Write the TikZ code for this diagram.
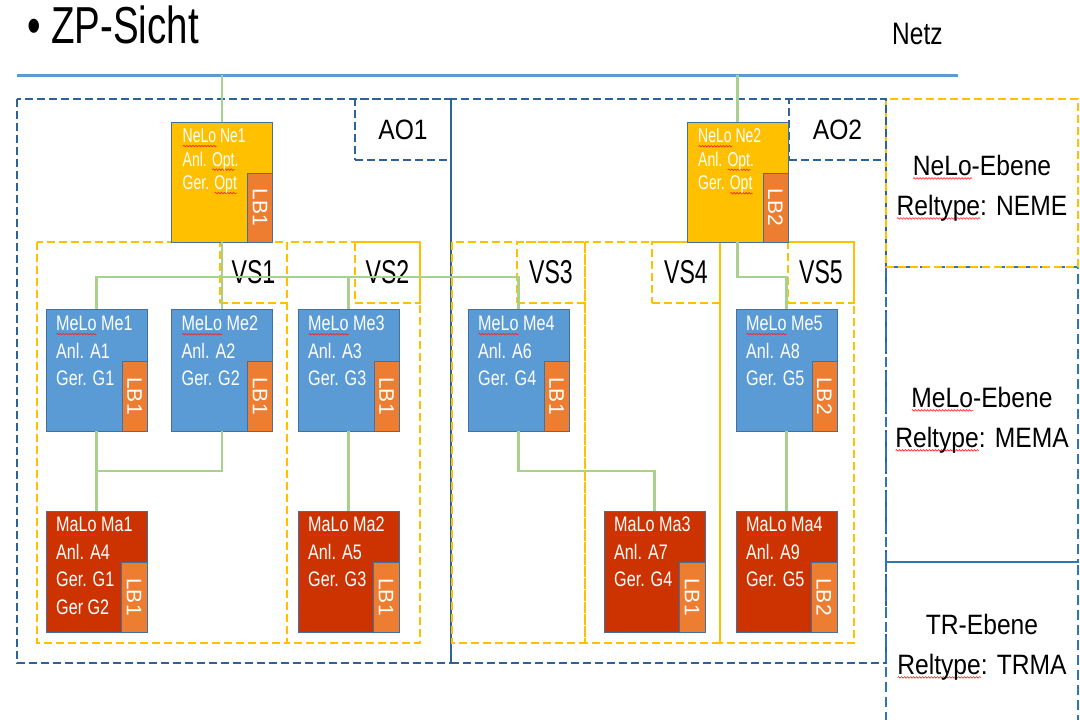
\documentclass[tikz,border=0pt]{standalone}
\usepackage{fontspec}
\usepackage{graphicx}
\usetikzlibrary{decorations.pathmorphing}
\setmainfont{Liberation Sans}
\newfontfamily\boxfont[FakeStretch=0.77]{Liberation Sans}
\newfontfamily\nefont[FakeStretch=0.70]{Liberation Sans}
\newfontfamily\sidefont[FakeStretch=0.88]{Liberation Sans}
\newfontfamily\vsfont[FakeStretch=0.70]{Liberation Sans}
\newfontfamily\titlefont[FakeStretch=0.74]{Liberation Sans}
\newfontfamily\netzfont[FakeStretch=0.79]{Liberation Sans}
\definecolor{gold}{HTML}{FFC000}
\definecolor{lborange}{HTML}{ED7D31}
\definecolor{meblue}{HTML}{5B9BD5}
\definecolor{mared}{HTML}{CC3300}
\definecolor{bord}{HTML}{41719C}
\definecolor{lgreen}{HTML}{A9D18E}
\definecolor{aoblue}{HTML}{2E6399}
\definecolor{sideblue}{HTML}{2E75B6}
\definecolor{netzblue}{HTML}{5B9BD5}
\definecolor{spell}{HTML}{FF2020}
\newsavebox\rwbox
\newlength\rwlen
\newcommand\rw[1]{\sbox\rwbox{#1}\setlength\rwlen{\wd\rwbox}\rlap{\raisebox{-4.5pt}{\tikz\draw[spell,line width=0.6pt,decorate,decoration={snake,amplitude=0.8pt,segment length=3pt}] (0pt,0pt) -- (\the\rwlen,0pt);}}\usebox\rwbox}
\begin{document}
\begin{tikzpicture}[x=1pt,y=-1pt,
  box/.style={draw=bord,line width=0.9pt,minimum width=101pt,minimum height=121pt,inner sep=0pt,outer sep=0pt},
  nebox/.style={box,fill=gold,minimum height=120pt},
  mebox/.style={box,fill=meblue,minimum height=122pt},
  mabox/.style={box,fill=mared},
  lbstrip/.style={draw=bord,line width=0.9pt,fill=lborange,minimum width=25pt,minimum height=70pt,inner sep=0pt,outer sep=0pt,anchor=south east,text=white,font=\fontsize{21}{21}\selectfont},
  boxtext/.style={anchor=north west,inner sep=0pt,align=left,text=white,font=\boxfont\fontsize{21}{27.5}\selectfont},
  netext/.style={anchor=north west,inner sep=0pt,align=left,text=white,font=\nefont\fontsize{20}{23.5}\selectfont},
  conn/.style={draw=lgreen,line width=2.5pt},
  netzline/.style={draw=netzblue,line width=3pt},
  aodash/.style={draw=aoblue,line width=2pt,dash pattern=on 8pt off 4pt},
  sidedash/.style={draw=sideblue,line width=2pt,dash pattern=on 10pt off 5pt},
  vsdash/.style={draw=gold,line width=2pt,dash pattern=on 8pt off 4pt},
  aolab/.style={aodash,anchor=north east,minimum width=96pt,minimum height=61pt,inner sep=0pt,outer sep=0pt,font=\sidefont\fontsize{28}{28}\selectfont},
  vslab/.style={vsdash,anchor=north east,minimum width=66pt,minimum height=61pt,inner sep=0pt,outer sep=0pt,font=\vsfont\fontsize{33}{33}\selectfont},
  sidetext/.style={anchor=base,inner sep=0pt,font=\sidefont\fontsize{28}{28}\selectfont}
]
\useasboundingbox (0,0) rectangle (1080,720);
\clip (0,0) rectangle (1080,720);
\fill[white] (0,0) rectangle (1080,720);

% title and net
\node[anchor=base west,inner sep=0pt,font=\titlefont\fontsize{52}{52}\selectfont] (title) at (27,43) {• ZP-Sicht};
\node[anchor=base west,inner sep=0pt,font=\netzfont\fontsize{31}{31}\selectfont] (netz) at (892,45) {Netz};
\coordinate (nl) at (17,75);
\coordinate (nr) at (958,75);
\draw[netzline] (nl) -- (nr);

% AO regions
\draw[aodash] (17,99) rectangle (451,663);
\draw[aodash] (451,99) rectangle (886,663);

% VS regions
\draw[vsdash] (37,242) rectangle (287,643);
\draw[vsdash] (287,242) rectangle (420,643);
\draw[vsdash] (452,242) rectangle (585,643);
\draw[vsdash] (585,242) rectangle (720,643);
\draw[vsdash] (720,242) rectangle (854,643);

% side level boxes
\draw[sidedash] (886,267) rectangle (1078,562);
\draw[sidedash] (886,562) rectangle (1078,735);
\draw[vsdash] (886,99) rectangle (1078,267);

% label boxes
\node[aolab] (ao1) at (451,99) {AO1};
\node[aolab,minimum width=97pt] (ao2) at (886,99) {AO2};
\node[vslab,minimum width=67pt] (vs1) at (287,242) {VS1};
\node[vslab,minimum width=65pt] (vs2) at (420,242) {VS2};
\node[vslab,minimum width=68pt] (vs3) at (585,242) {VS3};
\node[vslab,minimum width=68pt] (vs4) at (720,242) {VS4};
\node[vslab] (vs5) at (854,242) {VS5};

% coordinates for connectors
\coordinate (n1) at (222,75);
\coordinate (n2) at (737.5,75);
\coordinate (bus1) at (96.5,277);
\coordinate (bus2) at (518.5,277);
\coordinate (bus3) at (786.5,277);
\coordinate (j1) at (96.5,471);
\coordinate (j2) at (654.5,471);

% boxes
\node[nebox] (ne1) at (222,182) {};
\node[nebox] (ne2) at (737.5,182) {};
\node[mebox] (me1) at (96.5,370) {};
\node[mebox] (me2) at (222,370) {};
\node[mebox] (me3) at (348.5,370) {};
\node[mebox] (me4) at (518.5,370) {};
\node[mebox] (me5) at (786.5,370) {};
\node[mabox] (ma1) at (96.5,571.5) {};
\node[mabox] (ma2) at (348.5,571.5) {};
\node[mabox] (ma3) at (654.5,571.5) {};
\node[mabox] (ma4) at (786.5,571.5) {};

% connectors
\draw[conn] (n1) -- (ne1.north);
\draw[conn] (n2) -- (ne2.north);
\draw[conn] (me1.north) -- (bus1) -- (bus2) -- (me4.north);
\draw[conn] (ne1.south) -- (me2.north);
\draw[conn] (me3.north) -- (me3.north |- bus1);
\draw[conn] (ne2.south) |- (bus3) -- (me5.north);
\draw[conn] (me1.south) -- (ma1.north);
\draw[conn] (me2.south) |- (j1);
\draw[conn] (me3.south) -- (ma2.north);
\draw[conn] (me4.south) |- (j2) -- (ma3.north);
\draw[conn] (me5.south) -- (ma4.north);

% strips
\node[lbstrip,minimum height=69pt] (ne1lb) at (ne1.south east) {\rotatebox{-90}{LB1}};
\node[lbstrip,minimum height=69pt] (ne2lb) at (ne2.south east) {\rotatebox{-90}{LB2}};
\node[lbstrip] (me1lb) at (me1.south east) {\rotatebox{-90}{LB1}};
\node[lbstrip] (me2lb) at (me2.south east) {\rotatebox{-90}{LB1}};
\node[lbstrip] (me3lb) at (me3.south east) {\rotatebox{-90}{LB1}};
\node[lbstrip] (me4lb) at (me4.south east) {\rotatebox{-90}{LB1}};
\node[lbstrip] (me5lb) at (me5.south east) {\rotatebox{-90}{LB2}};
\node[lbstrip,minimum width=26pt] (ma1lb) at (ma1.south east) {\rotatebox{-90}{LB1}};
\node[lbstrip,minimum width=26pt] (ma2lb) at (ma2.south east) {\rotatebox{-90}{LB1}};
\node[lbstrip,minimum width=26pt] (ma3lb) at (ma3.south east) {\rotatebox{-90}{LB1}};
\node[lbstrip,minimum width=26pt] (ma4lb) at (ma4.south east) {\rotatebox{-90}{LB2}};

% box texts
\node[netext] (ne1t) at ([xshift=11pt,yshift=-6.7pt]ne1.north west) {\rw{NeLo} Ne1\\Anl. \rw{Opt}.\\Ger. \rw{Opt}};
\node[netext] (ne2t) at ([xshift=11pt,yshift=-6.7pt]ne2.north west) {\rw{NeLo} Ne2\\Anl. \rw{Opt}.\\Ger. \rw{Opt}};
\node[boxtext] (me1t) at ([xshift=10pt,yshift=-7pt]me1.north west) {\rw{MeLo} Me1\\Anl. A1\\Ger. G1};
\node[boxtext] (me2t) at ([xshift=10pt,yshift=-7pt]me2.north west) {\rw{MeLo} Me2\\Anl. A2\\Ger. G2};
\node[boxtext] (me3t) at ([xshift=10pt,yshift=-7pt]me3.north west) {\rw{MeLo} Me3\\Anl. A3\\Ger. G3};
\node[boxtext] (me4t) at ([xshift=10pt,yshift=-7pt]me4.north west) {\rw{MeLo} Me4\\Anl. A6\\Ger. G4};
\node[boxtext] (me5t) at ([xshift=10pt,yshift=-7pt]me5.north west) {\rw{MeLo} Me5\\Anl. A8\\Ger. G5};
\node[boxtext] (ma1t) at ([xshift=10pt,yshift=-6pt]ma1.north west) {\rw{MaLo} Ma1\\Anl. A4\\Ger. G1\\Ger G2};
\node[boxtext] (ma2t) at ([xshift=10pt,yshift=-6pt]ma2.north west) {\rw{MaLo} Ma2\\Anl. A5\\Ger. G3};
\node[boxtext] (ma3t) at ([xshift=10pt,yshift=-6pt]ma3.north west) {\rw{MaLo} Ma3\\Anl. A7\\Ger. G4};
\node[boxtext] (ma4t) at ([xshift=10pt,yshift=-6pt]ma4.north west) {\rw{MaLo} Ma4\\Anl. A9\\Ger. G5};

% side texts
\node[sidetext] (s1a) at (982,175) {\rw{NeLo}-Ebene};
\node[sidetext] (s1b) at (982,215) {\rw{Reltype}: NEME};
\node[sidetext] (s2a) at (982,407) {\rw{MeLo}-Ebene};
\node[sidetext] (s2b) at (982,447) {\rw{Reltype}: MEMA};
\node[sidetext] (s3a) at (982,634) {TR-Ebene};
\node[sidetext] (s3b) at (982,674) {\rw{Reltype}: TRMA};
\end{tikzpicture}
\end{document}
